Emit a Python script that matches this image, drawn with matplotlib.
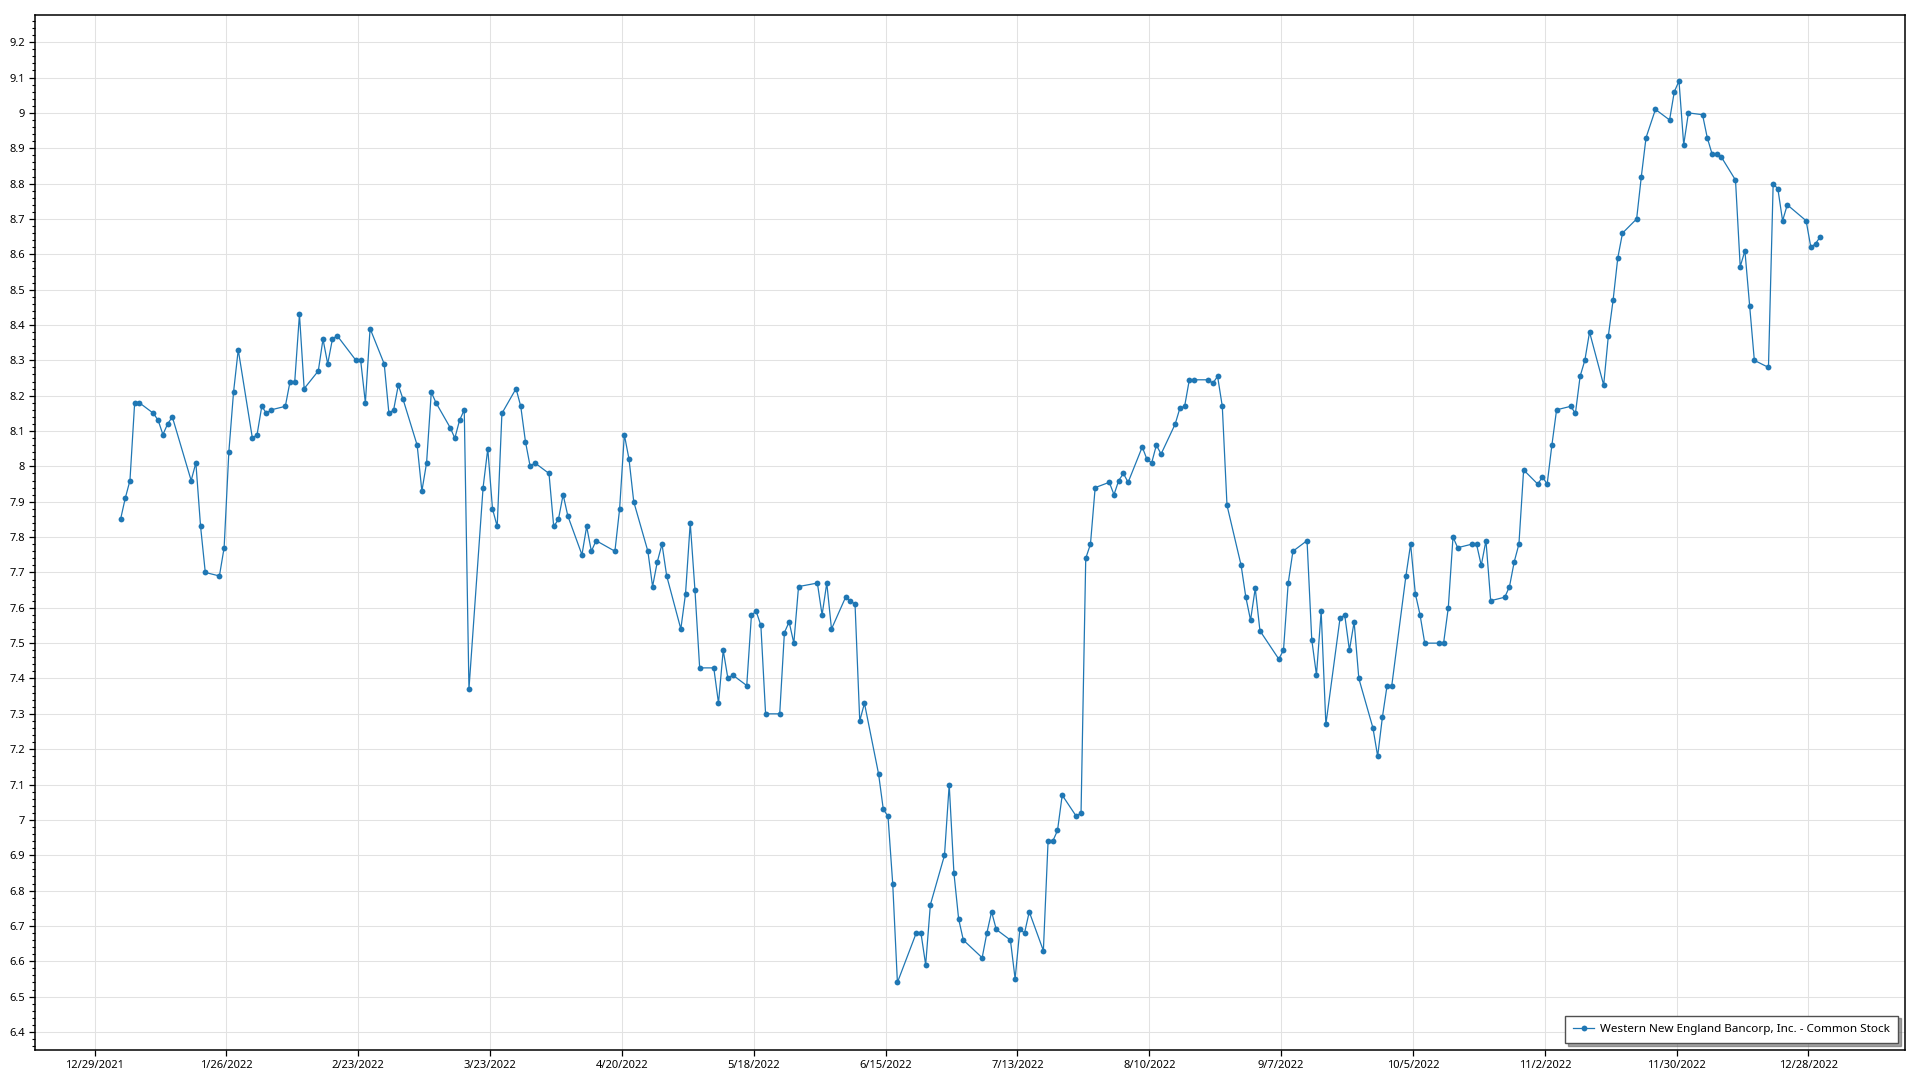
import matplotlib
matplotlib.use("Agg")
import matplotlib.pyplot as plt
from matplotlib.ticker import MultipleLocator, AutoMinorLocator, FuncFormatter
import pandas as pd

series_name = "Western New England Bancorp, Inc. - Common Stock"

dates = [
    "2022-01-03", "2022-01-04", "2022-01-05", "2022-01-06", "2022-01-07",
    "2022-01-10", "2022-01-11", "2022-01-12", "2022-01-13", "2022-01-14",
    "2022-01-18", "2022-01-19", "2022-01-20", "2022-01-21",
    "2022-01-24", "2022-01-25", "2022-01-26", "2022-01-27", "2022-01-28",
    "2022-01-31", "2022-02-01", "2022-02-02", "2022-02-03", "2022-02-04",
    "2022-02-07", "2022-02-08", "2022-02-09", "2022-02-10", "2022-02-11",
    "2022-02-14", "2022-02-15", "2022-02-16", "2022-02-17", "2022-02-18",
    "2022-02-22", "2022-02-23", "2022-02-24", "2022-02-25",
    "2022-02-28", "2022-03-01", "2022-03-02", "2022-03-03", "2022-03-04",
    "2022-03-07", "2022-03-08", "2022-03-09", "2022-03-10", "2022-03-11",
    "2022-03-14", "2022-03-15", "2022-03-16", "2022-03-17", "2022-03-18",
    "2022-03-21", "2022-03-22", "2022-03-23", "2022-03-24", "2022-03-25",
    "2022-03-28", "2022-03-29", "2022-03-30", "2022-03-31", "2022-04-01",
    "2022-04-04", "2022-04-05", "2022-04-06", "2022-04-07", "2022-04-08",
    "2022-04-11", "2022-04-12", "2022-04-13", "2022-04-14",
    "2022-04-18", "2022-04-19", "2022-04-20", "2022-04-21", "2022-04-22",
    "2022-04-25", "2022-04-26", "2022-04-27", "2022-04-28", "2022-04-29",
    "2022-05-02", "2022-05-03", "2022-05-04", "2022-05-05", "2022-05-06",
    "2022-05-09", "2022-05-10", "2022-05-11", "2022-05-12", "2022-05-13",
    "2022-05-16", "2022-05-17", "2022-05-18", "2022-05-19", "2022-05-20",
    "2022-05-23", "2022-05-24", "2022-05-25", "2022-05-26", "2022-05-27",
    "2022-05-31", "2022-06-01", "2022-06-02", "2022-06-03",
    "2022-06-06", "2022-06-07", "2022-06-08", "2022-06-09", "2022-06-10",
    "2022-06-13", "2022-06-14", "2022-06-15", "2022-06-16", "2022-06-17",
    "2022-06-21", "2022-06-22", "2022-06-23", "2022-06-24",
    "2022-06-27", "2022-06-28", "2022-06-29", "2022-06-30", "2022-07-01",
    "2022-07-05", "2022-07-06", "2022-07-07", "2022-07-08",
    "2022-07-11", "2022-07-12", "2022-07-13", "2022-07-14", "2022-07-15",
    "2022-07-18", "2022-07-19", "2022-07-20", "2022-07-21", "2022-07-22",
    "2022-07-25", "2022-07-26", "2022-07-27", "2022-07-28", "2022-07-29",
    "2022-08-01", "2022-08-02", "2022-08-03", "2022-08-04", "2022-08-05",
    "2022-08-08", "2022-08-09", "2022-08-10", "2022-08-11", "2022-08-12",
    "2022-08-15", "2022-08-16", "2022-08-17", "2022-08-18", "2022-08-19",
    "2022-08-22", "2022-08-23", "2022-08-24", "2022-08-25", "2022-08-26",
    "2022-08-29", "2022-08-30", "2022-08-31", "2022-09-01", "2022-09-02",
    "2022-09-06", "2022-09-07", "2022-09-08", "2022-09-09",
    "2022-09-12", "2022-09-13", "2022-09-14", "2022-09-15", "2022-09-16",
    "2022-09-19", "2022-09-20", "2022-09-21", "2022-09-22", "2022-09-23",
    "2022-09-26", "2022-09-27", "2022-09-28", "2022-09-29", "2022-09-30",
    "2022-10-03", "2022-10-04", "2022-10-05", "2022-10-06", "2022-10-07",
    "2022-10-10", "2022-10-11", "2022-10-12", "2022-10-13", "2022-10-14",
    "2022-10-17", "2022-10-18", "2022-10-19", "2022-10-20", "2022-10-21",
    "2022-10-24", "2022-10-25", "2022-10-26", "2022-10-27", "2022-10-28",
    "2022-10-31", "2022-11-01", "2022-11-02", "2022-11-03", "2022-11-04",
    "2022-11-07", "2022-11-08", "2022-11-09", "2022-11-10", "2022-11-11",
    "2022-11-14", "2022-11-15", "2022-11-16", "2022-11-17", "2022-11-18",
    "2022-11-21", "2022-11-22", "2022-11-23", "2022-11-25",
    "2022-11-28", "2022-11-29", "2022-11-30", "2022-12-01", "2022-12-02",
    "2022-12-05", "2022-12-06", "2022-12-07", "2022-12-08", "2022-12-09",
    "2022-12-12", "2022-12-13", "2022-12-14", "2022-12-15", "2022-12-16",
    "2022-12-19", "2022-12-20", "2022-12-21", "2022-12-22", "2022-12-23",
    "2022-12-27", "2022-12-28", "2022-12-29", "2022-12-30",
]

prices = [
    7.85, 7.91, 7.96, 8.18, 8.18,
    8.15, 8.13, 8.09, 8.12, 8.14,
    7.96, 8.01, 7.83, 7.70,
    7.69, 7.77, 8.04, 8.21, 8.33,
    8.08, 8.09, 8.17, 8.15, 8.16,
    8.17, 8.24, 8.24, 8.43, 8.22,
    8.27, 8.36, 8.29, 8.36, 8.37,
    8.30, 8.30, 8.18, 8.39,
    8.29, 8.15, 8.16, 8.23, 8.19,
    8.06, 7.93, 8.01, 8.21, 8.18,
    8.11, 8.08, 8.13, 8.16, 7.37,
    7.94, 8.05, 7.88, 7.83, 8.15,
    8.22, 8.17, 8.07, 8.00, 8.01,
    7.98, 7.83, 7.85, 7.92, 7.86,
    7.75, 7.83, 7.76, 7.79,
    7.76, 7.88, 8.09, 8.02, 7.90,
    7.76, 7.66, 7.73, 7.78, 7.69,
    7.54, 7.64, 7.84, 7.65, 7.43,
    7.43, 7.33, 7.48, 7.40, 7.41,
    7.38, 7.58, 7.59, 7.55, 7.30,
    7.30, 7.53, 7.56, 7.50, 7.66,
    7.67, 7.58, 7.67, 7.54,
    7.63, 7.62, 7.61, 7.28, 7.33,
    7.13, 7.03, 7.01, 6.82, 6.54,
    6.68, 6.68, 6.59, 6.76,
    6.90, 7.10, 6.85, 6.72, 6.66,
    6.61, 6.68, 6.74, 6.69,
    6.66, 6.55, 6.69, 6.68, 6.74,
    6.63, 6.94, 6.94, 6.97, 7.07,
    7.01, 7.02, 7.74, 7.78, 7.94,
    7.955, 7.92, 7.96, 7.98, 7.955,
    8.055, 8.02, 8.01, 8.06, 8.035,
    8.12, 8.165, 8.17, 8.245, 8.245,
    8.245, 8.235, 8.255, 8.17, 7.89,
    7.72, 7.63, 7.565, 7.655, 7.535,
    7.455, 7.48, 7.67, 7.76,
    7.79, 7.51, 7.41, 7.59, 7.27,
    7.57, 7.58, 7.48, 7.56, 7.40,
    7.26, 7.18, 7.29, 7.38, 7.38,
    7.69, 7.78, 7.64, 7.58, 7.50,
    7.50, 7.50, 7.60, 7.80, 7.77,
    7.78, 7.78, 7.72, 7.79, 7.62,
    7.63, 7.66, 7.73, 7.78, 7.99,
    7.95, 7.97, 7.95, 8.06, 8.16,
    8.17, 8.15, 8.255, 8.30, 8.38,
    8.23, 8.37, 8.47, 8.59, 8.66,
    8.70, 8.82, 8.93, 9.01,
    8.98, 9.06, 9.09, 8.91, 9.00,
    8.995, 8.93, 8.885, 8.885, 8.875,
    8.81, 8.565, 8.61, 8.455, 8.30,
    8.28, 8.80, 8.785, 8.695, 8.74,
    8.695, 8.62, 8.63, 8.65,
]

x_tick_labels = ["12/29/2021", "1/26/2022", "2/23/2022", "3/23/2022", "4/20/2022",
                 "5/18/2022", "6/15/2022", "7/13/2022", "8/10/2022", "9/7/2022",
                 "10/5/2022", "11/2/2022", "11/30/2022", "12/28/2022"]

plt.rcParams['font.family'] = ['Noto Sans', 'DejaVu Sans']

fig = plt.figure(figsize=(19.2, 10.8), dpi=100)
ax = fig.add_axes([35/1920, 1 - 1050/1080, (1905-35)/1920, (1050-15)/1080])

x = pd.to_datetime(dates) + pd.Timedelta(hours=12)
line_color = '#1f77b4'
ax.plot(x, prices, color=line_color, lw=0.9, marker='o', markersize=4.2,
        markeredgewidth=0, label=series_name, zorder=3)

tick_dates = pd.to_datetime(x_tick_labels, format="%m/%d/%Y")
ax.set_xticks(tick_dates)
ax.set_xticklabels(x_tick_labels)
ax.set_xlim(pd.Timestamp("2021-12-16 08:00"), pd.Timestamp("2023-01-17 12:00"))

ax.set_ylim(6.349, 9.277)
ax.yaxis.set_major_locator(MultipleLocator(0.1))
ax.yaxis.set_minor_locator(AutoMinorLocator(5))
ax.yaxis.set_major_formatter(FuncFormatter(lambda v, p: f"{round(v, 1):g}"))

ax.grid(True, which='major', color='#e2e2e2', lw=0.75, zorder=0)
ax.set_axisbelow(True)
for s in ax.spines.values():
    s.set_color('black')
    s.set_linewidth(1.1)

ax.tick_params(axis='both', which='major', direction='out', length=4, width=0.9,
               labelsize=8, colors='black', pad=3)
ax.tick_params(axis='y', which='minor', direction='out', length=2, width=0.8)
ax.tick_params(axis='x', which='minor', length=0)

leg = ax.legend(loc='lower right', fontsize=8.4, frameon=True, fancybox=False,
                shadow=True, borderaxespad=0.6, handlelength=1.8,
                handletextpad=0.5, borderpad=0.7)
leg.get_frame().set_edgecolor('#505050')
leg.get_frame().set_linewidth(1.0)

fig.savefig("out.png", dpi=100, facecolor='white')
